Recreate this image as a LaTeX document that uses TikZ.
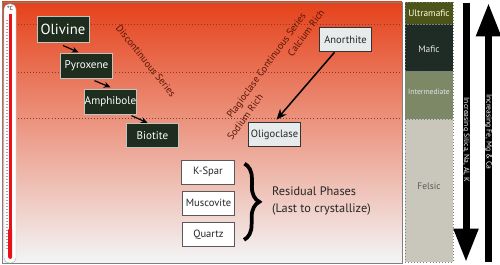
\documentclass[tikz,border=0pt]{standalone}
\usepackage{fontspec}
\setmainfont{PT Sans}
\usetikzlibrary{calc,arrows.meta,decorations.pathreplacing}
\definecolor{BRTop}{HTML}{E5421A}
\definecolor{BRMid}{HTML}{D8BBA6}
\definecolor{BRLow}{HTML}{F3F5F7}
\definecolor{BRDark}{HTML}{1E2D1E}
\definecolor{BRText}{HTML}{5A1606}
\definecolor{BRDot}{HTML}{8C3A28}
\definecolor{BRPale}{HTML}{E7EBEB}
\definecolor{BRUltra}{HTML}{4C5419}
\definecolor{BRMafic}{HTML}{1F2B25}
\definecolor{BRInter}{HTML}{7D8867}
\definecolor{BRFelsic}{HTML}{C9C6BB}
\definecolor{BRRed}{HTML}{E8121A}
\tikzset{
  darkbox/.style={draw=BRPale!80!BRDark,fill=BRDark,text=white,line width=0.6pt,
    minimum width=1.56cm,minimum height=0.74cm,inner sep=0pt,font=\fontsize{9.5}{10}\selectfont},
  palebox/.style={draw=black!80,fill=BRPale,text=black!85,line width=0.8pt,
    minimum width=1.56cm,minimum height=0.74cm,inner sep=0pt,font=\fontsize{9}{10}\selectfont},
  whitebox/.style={draw=black!65,fill=white,text=black!85,line width=0.6pt,
    minimum width=1.57cm,minimum height=0.72cm,inner sep=0pt,font=\fontsize{9}{10}\selectfont},
  steparrow/.style={line width=1pt,-{Stealth[length=2mm,width=1.8mm]}},
  zonelabel/.style={font=\fontsize{8}{9}\selectfont},
  bigarrow/.style={line width=0.21cm,-{Triangle[length=1.0cm,width=0.7cm]}},
  arrowtext/.style={text=white,rotate=-90,inner sep=0pt,font=\fontsize{6.5}{7}\selectfont},
  slanttext/.style={text=BRText,font=\fontsize{8.5}{10}\selectfont}
}
\begin{document}
\begin{tikzpicture}[x=0.03cm,y=-0.03cm]
\path[use as bounding box] (0,0) rectangle (500,265);
\shade[top color=BRTop,middle color=BRMid,bottom color=BRLow] (2,2) rectangle (402,263);
\draw[gray] (2,2) rectangle (402,263);
\draw[BRDot,dotted,line width=0.6pt] (18,24) -- (401,24);
\draw[BRDot,dotted,line width=0.6pt] (18,72) -- (401,72);
\draw[BRDot,dotted,line width=0.6pt] (18,118) -- (401,118);
\draw[gray!60,fill=white,rounded corners=0.15cm] (4,4) rectangle (16,263);
\foreach \y in {20,23,...,250}
  \draw[gray!70,line width=0.2pt] (5.5,\y) -- (8,\y);
\fill[BRRed] (8.8,14) rectangle (11.6,250);
\fill[BRRed,rounded corners=0.05cm] (8.2,228) rectangle (12.2,259);
\node[font=\fontsize{5}{6}\selectfont,inner sep=0pt] (degree) at (10,8) {°C};
\node[darkbox,font=\fontsize{12.5}{13}\selectfont,minimum height=0.76cm] (olivine) at (63,29.5) {Olivine};
\node[darkbox] (pyroxene) at (86.5,66) {Pyroxene};
\node[darkbox] (amphibole) at (110.5,102) {Amphibole};
\node[darkbox] (biotite) at (152.5,135.5) {Biotite};
\draw[steparrow] ($(olivine.south)+(0,3)$) -- ($(pyroxene.north)+(-8,-1)$);
\draw[steparrow] ($(pyroxene.south)+(8,2)$) -- ($(amphibole.north)+(0,-2)$);
\draw[steparrow] ($(amphibole.south)+(21,1)$) -- ($(biotite.north)+(-5,0)$);
\node[slanttext,rotate=-51] (discontinuous) at (146,61) {Discontinuous Series};
\node[palebox] (anorthite) at (345.5,39.5) {Anorthite};
\node[palebox] (oligoclase) at (274.5,134.5) {Oligoclase};
\draw[line width=1.3pt,-{Stealth[length=3.2mm,width=2.6mm]}] ($(anorthite.south)+(-11,0)$) -- ($(oligoclase.north)+(2,-2)$);
\node[slanttext,rotate=54] (plagioclase) at (267,66) {Plagioclase Continuous Series};
\node[slanttext,rotate=54] (sodium) at (245,117) {Sodium Rich};
\node[slanttext,rotate=54] (calcium) at (306,33) {Calcium Rich};
\node[whitebox] (kspar) at (208,172) {K-Spar};
\node[whitebox] (muscovite) at (208.5,203) {Muscovite};
\node[whitebox] (quartz) at (208.5,234.5) {Quartz};
\draw[decorate,decoration={brace,amplitude=0.45cm},line width=3.2pt] ($(kspar.north east)+(10,4)$) -- ($(quartz.south east)+(9,-7)$);
\node[anchor=west,align=left,font=\fontsize{10.5}{14.5}\selectfont,text=black!85] (residual) at (268,201) {Residual Phases\\(Last to crystallize)};
\fill[BRUltra] (405,2) rectangle (453,24);
\fill[BRMafic] (405,24) rectangle (453,71);
\fill[BRInter] (405,71) rectangle (453,119);
\fill[BRFelsic] (405,119) rectangle (453,262);
\draw[gray,dotted,line width=0.6pt] (405,2) rectangle (453,24) (405,24) rectangle (453,71) (405,71) rectangle (453,119) (405,119) rectangle (453,262);
\node[zonelabel,text=yellow!15] (ultramafic) at (429,13) {Ultramafic};
\node[zonelabel,text=white!90!black] (mafic) at (429,49) {Mafic};
\node[zonelabel,text=white!90!black,font=\fontsize{6.5}{8}\selectfont] (intermediate) at (429,92) {Intermediate};
\node[zonelabel,text=black!65] (felsic) at (429,186) {Felsic};
\coordinate (silicatop) at (466,3);
\coordinate (silicaend) at (466,262);
\draw[bigarrow] (silicatop) -- (silicaend);
\coordinate (ironbase) at (488.5,262);
\coordinate (irontop) at (488.5,3);
\draw[bigarrow] (ironbase) -- (irontop);
\node[arrowtext] (silica) at (466,140) {Increasing Silica, Na, Al, K};
\node[arrowtext] (iron) at (488.5,132) {Increasing Fe, Mg \& Ca};
\end{tikzpicture}
\end{document}
